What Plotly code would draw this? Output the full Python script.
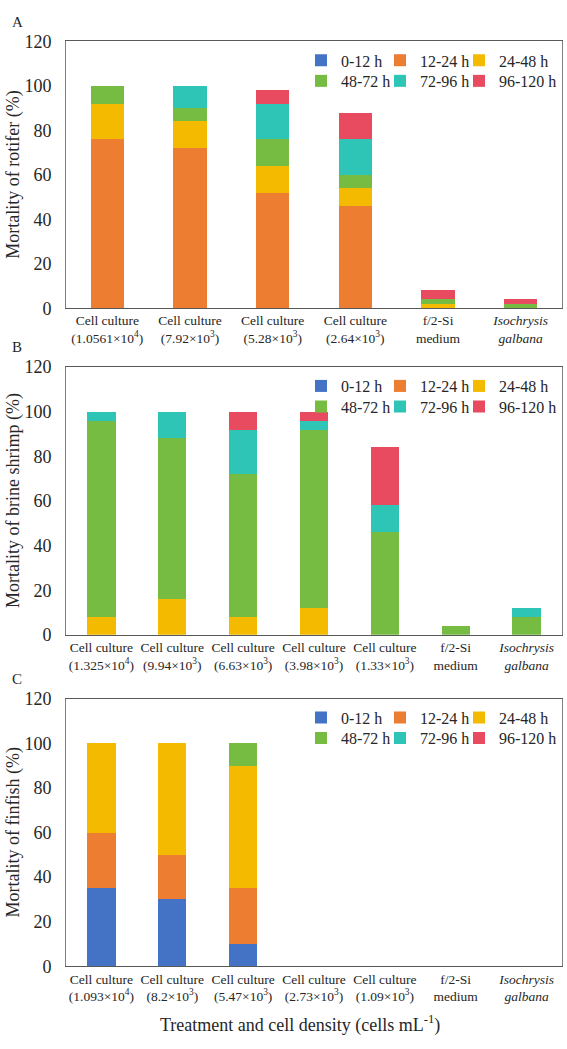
import plotly.graph_objects as go

W, H = 567, 1049

series_names = ["0-12 h", "12-24 h", "24-48 h", "48-72 h", "72-96 h", "96-120 h"]
series_colors = ["#4472C4", "#ED7D31", "#F4BA00", "#76BC42", "#2EC4B6", "#E84B5F"]

# Panel A: rotifer
cats_a = [
    "Cell culture<br>(1.0561×10<sup>4</sup>)",
    "Cell culture<br>(7.92×10<sup>3</sup>)",
    "Cell culture<br>(5.28×10<sup>3</sup>)",
    "Cell culture<br>(2.64×10<sup>3</sup>)",
    "f/2-Si<br>medium",
    "<i>Isochrysis</i><br><i>galbana</i>",
]
a_0_12 = [0, 0, 0, 0, 0, 0]
a_12_24 = [76, 72, 52, 46, 0, 0]
a_24_48 = [16, 12, 12, 8, 2, 0]
a_48_72 = [8, 6, 12, 6, 2, 2]
a_72_96 = [0, 10, 16, 16, 0, 0]
a_96_120 = [0, 0, 6, 12, 4, 2]

# Panel B: brine shrimp
cats_b = [
    "Cell culture<br>(1.325×10<sup>4</sup>)",
    "Cell culture<br>(9.94×10<sup>3</sup>)",
    "Cell culture<br>(6.63×10<sup>3</sup>)",
    "Cell culture<br>(3.98×10<sup>3</sup>)",
    "Cell culture<br>(1.33×10<sup>3</sup>)",
    "f/2-Si<br>medium",
    "<i>Isochrysis</i><br><i>galbana</i>",
]
b_0_12 = [0, 0, 0, 0, 0, 0, 0]
b_12_24 = [0, 0, 0, 0, 0, 0, 0]
b_24_48 = [8, 16, 8, 12, 0, 0, 0]
b_48_72 = [88, 72, 64, 80, 46, 4, 8]
b_72_96 = [4, 12, 20, 4, 12, 0, 4]
b_96_120 = [0, 0, 8, 4, 26, 0, 0]

# Panel C: finfish
cats_c = [
    "Cell culture<br>(1.093×10<sup>4</sup>)",
    "Cell culture<br>(8.2×10<sup>3</sup>)",
    "Cell culture<br>(5.47×10<sup>3</sup>)",
    "Cell culture<br>(2.73×10<sup>3</sup>)",
    "Cell culture<br>(1.09×10<sup>3</sup>)",
    "f/2-Si<br>medium",
    "<i>Isochrysis</i><br><i>galbana</i>",
]
c_0_12 = [35, 30, 10, 0, 0, 0, 0]
c_12_24 = [25, 20, 25, 0, 0, 0, 0]
c_24_48 = [40, 50, 55, 0, 0, 0, 0]
c_48_72 = [0, 0, 10, 0, 0, 0, 0]
c_72_96 = [0, 0, 0, 0, 0, 0, 0]
c_96_120 = [0, 0, 0, 0, 0, 0, 0]

panel_letters = ["A", "B", "C"]
y_titles = ["Mortality of rotifer (%)", "Mortality of brine shrimp (%)", "Mortality of finfish (%)"]
x_title = "Treatment and cell density (cells mL<sup>-1</sup>)"

panels = [
    (cats_a, [a_0_12, a_12_24, a_24_48, a_48_72, a_72_96, a_96_120]),
    (cats_b, [b_0_12, b_12_24, b_24_48, b_48_72, b_72_96, b_96_120]),
    (cats_c, [c_0_12, c_12_24, c_24_48, c_48_72, c_72_96, c_96_120]),
]

# layout in pixels
plot_left, plot_right = 66, 562
panel_tops = [32, 364, 702]
panel_bottoms = [304, 637, 975]

FONT = "Liberation Serif, Times New Roman, serif"
TXT = "#262626"

def py(px):
    return 1 - px / H

def pxx(px):
    return px / W

fig = go.Figure()
layout = dict(
    width=W, height=H,
    margin=dict(l=0, r=0, t=0, b=0),
    paper_bgcolor="white", plot_bgcolor="white",
    barmode="stack", bargap=0.6,
    font=dict(family=FONT, color=TXT),
    annotations=[],
)

for p, (cats, vals) in enumerate(panels):
    sfx = "" if p == 0 else str(p + 1)
    xa, ya = "x" + sfx, "y" + sfx
    for s in range(6):
        leg = "legend" + ("" if (2 * p + s // 3) == 0 else str(2 * p + s // 3 + 1))
        fig.add_trace(go.Bar(
            x=cats, y=vals[s], name=series_names[s],
            marker=dict(color=series_colors[s], line=dict(width=0)),
            xaxis=xa, yaxis=ya, legend=leg, showlegend=True,
            legendwidth=34 if s % 3 < 2 else 60,
        ))
    layout["xaxis" + sfx] = dict(
        domain=[pxx(plot_left), pxx(plot_right)], anchor=ya,
        type="category", categoryorder="array", categoryarray=cats,
        showline=True, linecolor="#595959", linewidth=1, mirror=True,
        ticks="", showgrid=False, tickfont=dict(family=FONT, size=13.5, color=TXT),
        tickangle=0, ticklabelstandoff=0,
    )
    layout["yaxis" + sfx] = dict(
        domain=[py(panel_bottoms[p]), py(panel_tops[p])], anchor=xa,
        range=[0, 120], dtick=20, tick0=0,
        showline=True, linecolor="#7f7f7f", linewidth=1, mirror=True,
        ticks="", showgrid=False, zeroline=False,
        tickfont=dict(family=FONT, size=18, color=TXT),
        ticklabelstandoff=10,
    )
    # legends: two rows
    for r in range(2):
        lname = "legend" + ("" if (2 * p + r) == 0 else str(2 * p + r + 1))
        layout[lname] = dict(
            orientation="h", x=pxx(301), xanchor="left",
            y=py(panel_tops[p] + 2 + 21 * r), yanchor="top",
            font=dict(family=FONT, size=16, color=TXT),
            bgcolor="rgba(0,0,0,0)",
            traceorder="normal", itemclick=False, itemdoubleclick=False,
        )
    layout["annotations"].append(dict(
        text=panel_letters[p], x=pxx(17), y=py(panel_tops[p] - 20),
        xref="paper", yref="paper", showarrow=False,
        xanchor="center", yanchor="middle", font=dict(family=FONT, size=15, color=TXT),
    ))
    layout["annotations"].append(dict(
        text=y_titles[p], x=pxx(14), y=py((panel_tops[p] + panel_bottoms[p]) / 2),
        xref="paper", yref="paper", showarrow=False, textangle=-90,
        xanchor="center", yanchor="middle", font=dict(family=FONT, size=18, color=TXT),
    ))

layout["annotations"].append(dict(
    text=x_title, x=pxx(300), y=py(1034),
    xref="paper", yref="paper", showarrow=False,
    xanchor="center", yanchor="middle", font=dict(family=FONT, size=18, color=TXT),
))

fig.update_layout(**layout)
fig.write_html("out.html")
